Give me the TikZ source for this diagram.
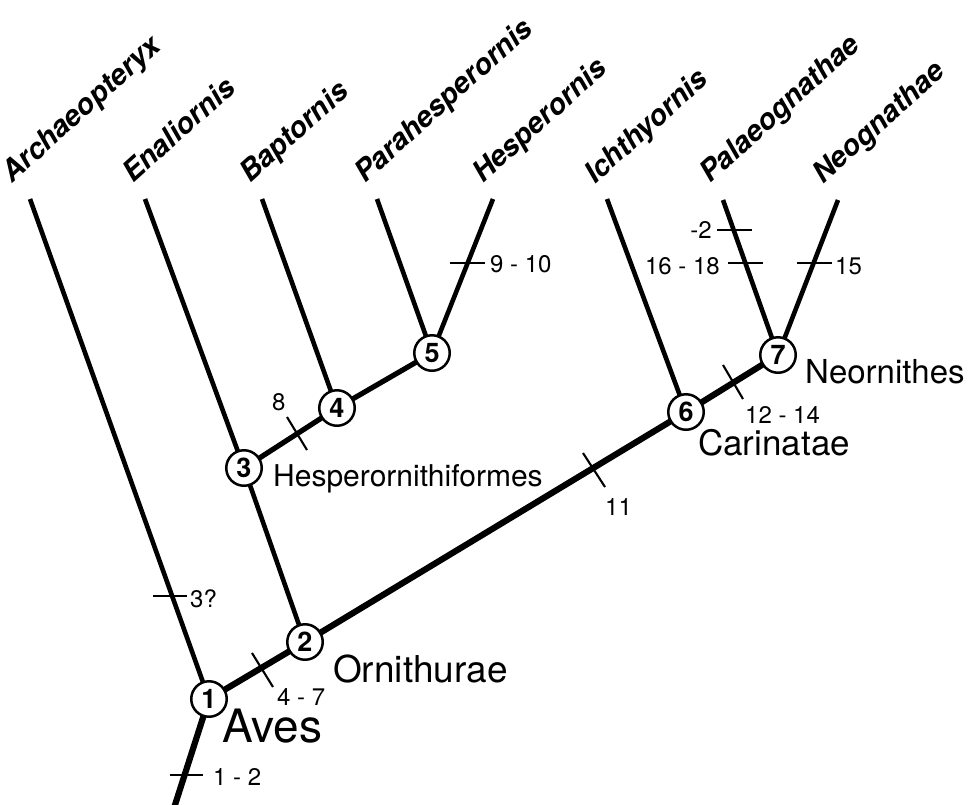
\documentclass[tikz,border=0pt]{standalone}
\usepackage{fontspec}
\setmainfont{TeX Gyre Heros}
\usetikzlibrary{backgrounds}
\begin{document}
\begin{tikzpicture}[x=1pt,y=-1pt,
  leaf/.style={line width=4.6pt},
  spine/.style={line width=6.2pt},
  midbr/.style={line width=5.2pt},
  tickmark/.style={line width=2.1pt},
  cnode/.style={circle, draw, fill=white, line width=2.5pt, minimum size=35.5pt, inner sep=0pt, font=\fontsize{27}{27}\selectfont\bfseries},
  taxon/.style={anchor=base west, rotate=42, inner sep=0pt, font=\fontsize{29}{29}\selectfont\bfseries\itshape},
  num/.style={anchor=base west, inner sep=0pt, font=\fontsize{24}{24}\selectfont},
  numr/.style={num, anchor=base east},
  clade/.style={anchor=base west, inner sep=0pt}
]
\useasboundingbox (0,0) rectangle (974,804);

% clade nodes
\node[cnode] (n1) at (209,699) {1};
\node[cnode] (n2) at (305,642) {2};
\node[cnode] (n3) at (244,468) {3};
\node[cnode] (n4) at (337,408) {4};
\node[cnode] (n5) at (432,353) {5};
\node[cnode] (n6) at (686,412) {6};
\node[cnode] (n7) at (778,355) {7};

% leaf tips
\coordinate (tA) at (30,199);
\coordinate (tE) at (145,199);
\coordinate (tB) at (262,199);
\coordinate (tP) at (377,199);
\coordinate (tH) at (493,199);
\coordinate (tI) at (607,199);
\coordinate (tPa) at (723,200);
\coordinate (tN) at (838,200);
\coordinate (root) at (174,808);

\begin{pgfonlayer}{background}
\draw[spine] (root) -- (n1.center) -- (n2.center) -- (n6.center) -- (n7.center);
\draw[midbr] (n3.center) -- (n4.center) -- (n5.center);
\draw[leaf] (tA) -- (n1.center);
\draw[leaf] (tE) -- (n3.center) -- (n2.center);
\draw[leaf] (tB) -- (n4.center);
\draw[leaf] (tP) -- (n5.center);
\draw[leaf] (tH) -- (n5.center);
\draw[leaf] (tI) -- (n6.center);
\draw[leaf] (tPa) -- (n7.center);
\draw[leaf] (tN) -- (n7.center);
\end{pgfonlayer}

% character ticks
\draw[tickmark] (170,775) -- (203,775);
\draw[tickmark] (153,596) -- (187,596);
\draw[tickmark] (252,653) -- (273,687);
\draw[tickmark] (287,417) -- (307,450);
\draw[tickmark] (450,263) -- (485,263);
\draw[tickmark] (583,453) -- (605,487);
\draw[tickmark] (723,365) -- (743,399);
\draw[tickmark] (717,230) -- (752,230);
\draw[tickmark] (728,263) -- (763,263);
\draw[tickmark] (797,263) -- (832,263);

% character numbers
\node[num] (c12) at (213,785) {1 - 2};
\node[num] (c3) at (190,607) {3?};
\node[num] (c47) at (277,705) {4 - 7};
\node[num] (c8) at (272,410) {8};
\node[num] (c910) at (490,272) {9 - 10};
\node[num] (c11) at (605,515) {11};
\node[num] (c1214) at (745,423) {12 - 14};
\node[numr] (cm2) at (712,238) {-2};
\node[numr] (c1618) at (720,274) {16 - 18};
\node[num] (c15) at (835,274) {15};

% clade names
\node[clade, font=\fontsize{46}{46}\selectfont] (lAves) at (222,742) {Aves};
\node[clade, font=\fontsize{37}{37}\selectfont] (lOrn) at (333,682) {Ornithurae};
\node[clade, font=\fontsize{30}{30}\selectfont] (lHes) at (273,486) {Hesperornithiformes};
\node[clade, font=\fontsize{35}{35}\selectfont] (lCar) at (698,455) {Carinatae};
\node[clade, font=\fontsize{33}{33}\selectfont] (lNeo) at (805,383) {Neornithes};

% taxon names
\node[taxon] (xA) at (12,184) {Archaeopteryx};
\node[taxon] (xE) at (133,184) {Enaliornis};
\node[taxon] (xB) at (250,184) {Baptornis};
\node[taxon] (xP) at (365,184) {Parahesperornis};
\node[taxon] (xH) at (483,184) {Hesperornis};
\node[taxon] (xI) at (595,185) {Ichthyornis};
\node[taxon] (xPa) at (710,184) {Palaeognathae};
\node[taxon] (xN) at (823,185) {Neognathae};
\end{tikzpicture}
\end{document}
